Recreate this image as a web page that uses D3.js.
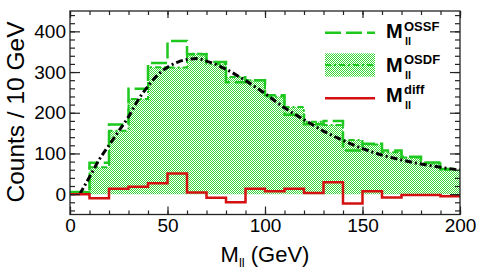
<!DOCTYPE html>
<html>
<head>
<meta charset="utf-8">
<script src="https://cdn.jsdelivr.net/npm/d3@7"></script>
<style>
  body { margin: 0; background: #fff; }
  svg text { font-family: "Liberation Sans", Arial, Helvetica, sans-serif; }
</style>
</head>
<body>
<svg id="chart" width="485" height="274"></svg>
<script>
// bin edges, 10 GeV wide
var binEdges = d3.range(0, 201, 10);
// OSSF (dashed green histogram)
var ossf = [5, 77, 171, 259, 322, 376, 344, 325, 275, 280, 243, 195, 172, 180, 107, 124, 107, 92, 78, 62];
// OSDF (hatched histogram)
var osdf = [5, 66, 156, 234, 312, 311, 345, 320, 288, 280, 240, 214, 178, 170, 133, 122, 103, 90, 76, 60];
// difference (red)
var diff = [0, -10, 13, 18, 27, 51, 4, -9, -20, 13, 7, 13, 3, 29, -23, 7, -8, -2, -2, -5];
// smooth fit curve (black dash-dot)
var fitM = [5, 10, 15, 20, 25, 30, 35, 40, 45, 50, 55, 60, 65, 70, 75, 80, 90, 100, 110, 120, 130, 140, 150, 160, 170, 180, 190, 200];
var fitV = [0, 42, 85, 120, 155, 190, 232, 265, 293, 312, 324, 331, 333, 327, 318, 307, 279, 247, 212, 183, 155, 132, 112, 96, 84, 74, 66, 59];
var xTicks = [0, 50, 100, 150, 200];
var yTicks = [0, 100, 200, 300, 400];

var green = "#1ec81e", red = "#d41010";
var svg = d3.select("#chart");
var x = d3.scaleLinear().domain([0, 200]).range([70, 460]);
var y = d3.scaleLinear().domain([-50, 450]).range([214.5, 11]);

var defs = svg.append("defs");
var pat = defs.append("pattern")
    .attr("id", "hatch")
    .attr("patternUnits", "userSpaceOnUse")
    .attr("width", 2).attr("height", 2);
pat.append("rect").attr("width", 2).attr("height", 2).attr("fill", "#ffffff");
pat.append("rect").attr("x", 0).attr("y", 0).attr("width", 1).attr("height", 1).attr("fill", "#3ad83a");
pat.append("rect").attr("x", 1).attr("y", 1).attr("width", 1).attr("height", 1).attr("fill", "#3ad83a");
defs.append("clipPath").attr("id", "clip")
    .append("rect").attr("x", 70).attr("y", 11).attr("width", 390).attr("height", 203.5);

// step points for a histogram
function steps(vals) {
    var pts = vals.map(function (v, i) { return [binEdges[i], v]; });
    pts.push([binEdges[vals.length], vals[vals.length - 1]]);
    return pts;
}
var stepLine = d3.line()
    .x(function (d) { return x(d[0]); })
    .y(function (d) { return y(d[1]); })
    .curve(d3.curveStepAfter);
var stepArea = d3.area()
    .x(function (d) { return x(d[0]); })
    .y0(y(0))
    .y1(function (d) { return y(d[1]); })
    .curve(d3.curveStepAfter);

var g = svg.append("g").attr("clip-path", "url(#clip)");

g.append("path").datum(steps(osdf))
    .attr("d", stepArea)
    .attr("fill", "url(#hatch)");
g.append("path").datum(steps(osdf))
    .attr("d", stepLine)
    .attr("fill", "none").attr("stroke", green).attr("stroke-width", 2)
    .attr("stroke-dasharray", "6,3,2,3");
g.append("path").datum(steps(ossf))
    .attr("d", stepLine)
    .attr("fill", "none").attr("stroke", green).attr("stroke-width", 2.5)
    .attr("stroke-dasharray", "16,5");

var fitLine = d3.line()
    .x(function (d) { return x(d); })
    .y(function (d, i) { return y(fitV[i]); })
    .curve(d3.curveMonotoneX);
g.append("path").datum(fitM)
    .attr("d", fitLine)
    .attr("fill", "none").attr("stroke", "#000").attr("stroke-width", 3)
    .attr("stroke-dasharray", "7,3,2,3");

g.append("path").datum(steps(diff))
    .attr("d", stepLine)
    .attr("fill", "none").attr("stroke", red).attr("stroke-width", 2.5);

// axes with inward ticks
function styleAxis(sel) {
    sel.select(".domain").remove();
    sel.selectAll("line").attr("stroke", "#222").attr("stroke-width", 1.2);
    sel.selectAll("text").attr("font-size", 19).attr("fill", "#000");
}
svg.append("g").attr("transform", "translate(0,214.5)")
    .call(d3.axisBottom(x).tickValues(d3.range(0, 201, 10)).tickSize(-4).tickFormat(""))
    .call(styleAxis);
svg.append("g").attr("transform", "translate(0,214.5)")
    .call(d3.axisBottom(x).tickValues(xTicks).tickSize(-8).tickPadding(11).tickFormat(d3.format("d")))
    .call(styleAxis)
    .selectAll("text").attr("dy", "0.71em").attr("y", 4);
svg.append("g").attr("transform", "translate(0,11)")
    .call(d3.axisTop(x).tickValues(d3.range(0, 201, 10)).tickSize(-4).tickFormat(""))
    .call(styleAxis);
svg.append("g").attr("transform", "translate(0,11)")
    .call(d3.axisTop(x).tickValues(xTicks).tickSize(-7).tickFormat(""))
    .call(styleAxis);
svg.append("g").attr("transform", "translate(70,0)")
    .call(d3.axisLeft(y).tickValues(d3.range(-40, 451, 20)).tickSize(-5).tickFormat(""))
    .call(styleAxis);
svg.append("g").attr("transform", "translate(70,0)")
    .call(d3.axisLeft(y).tickValues(yTicks).tickSize(-10).tickPadding(4).tickFormat(d3.format("d")))
    .call(styleAxis)
    .selectAll("text").attr("x", -4);
svg.append("g").attr("transform", "translate(460,0)")
    .call(d3.axisRight(y).tickValues(d3.range(-40, 451, 20)).tickSize(-5).tickFormat(""))
    .call(styleAxis);
svg.append("g").attr("transform", "translate(460,0)")
    .call(d3.axisRight(y).tickValues(yTicks).tickSize(-10).tickFormat(""))
    .call(styleAxis);

svg.append("rect")
    .attr("x", 70).attr("y", 11).attr("width", 390).attr("height", 203.5)
    .attr("fill", "none").attr("stroke", "#222").attr("stroke-width", 1.3);

// axis titles
var xt = svg.append("text").attr("x", 265).attr("y", 262)
    .attr("text-anchor", "middle").attr("font-size", 22);
xt.append("tspan").text("M");
xt.append("tspan").attr("font-size", 13).attr("dy", 5).text("ll");
xt.append("tspan").attr("dy", -5).text(" (GeV)");

svg.append("text")
    .attr("transform", "translate(24,112) rotate(-90)")
    .attr("text-anchor", "middle").attr("font-size", 24.5)
    .text("Counts / 10 GeV");

// legend
var legLabels = ["OSSF", "OSDF", "diff"];
var legBase = [38.3, 71.7, 101.7];
var legMid = [32.7, 65, 98.3];

svg.append("line").attr("x1", 325).attr("x2", 375).attr("y1", legMid[0]).attr("y2", legMid[0])
    .attr("stroke", green).attr("stroke-width", 2.5).attr("stroke-dasharray", "16,5");
svg.append("rect").attr("x", 325).attr("y", 53.3).attr("width", 50).attr("height", 23.4)
    .attr("fill", "url(#hatch)");
svg.append("line").attr("x1", 325).attr("x2", 375).attr("y1", legMid[1]).attr("y2", legMid[1])
    .attr("stroke", green).attr("stroke-width", 2).attr("stroke-dasharray", "6,3,2,3");
svg.append("line").attr("x1", 325).attr("x2", 375).attr("y1", legMid[2]).attr("y2", legMid[2])
    .attr("stroke", red).attr("stroke-width", 2.5);

legLabels.forEach(function (lab, i) {
    svg.append("text").attr("x", 386).attr("y", legBase[i])
        .attr("font-size", 20).attr("font-weight", "bold").text("M");
    svg.append("text").attr("x", 404).attr("y", legBase[i] - 7.5)
        .attr("font-size", 13).attr("font-weight", "bold").text(lab);
    svg.append("text").attr("x", 405).attr("y", legBase[i] + 7)
        .attr("font-size", 11).attr("font-weight", "bold").text("ll");
});
</script>
</body>
</html>
